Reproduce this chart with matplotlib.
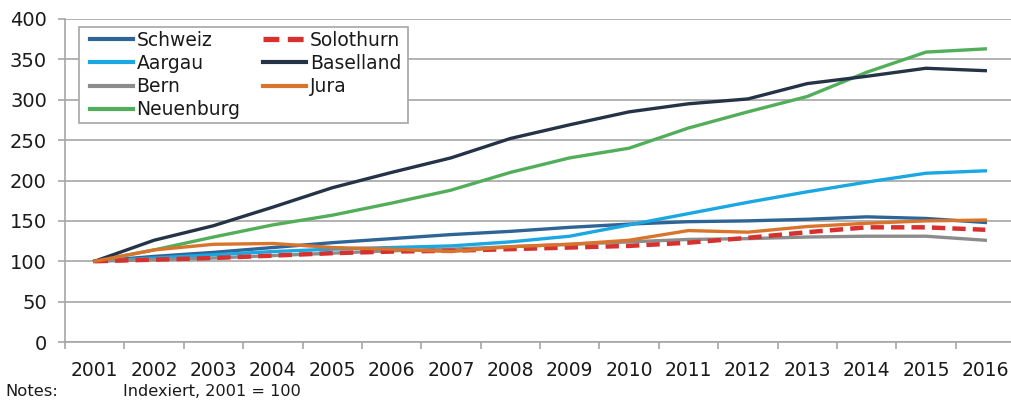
import matplotlib
matplotlib.use("Agg")
import matplotlib.pyplot as plt
from matplotlib.patches import Rectangle
import numpy as np

years = [str(y) for y in range(2001, 2017)]

schweiz   = [100, 106, 111, 117, 123, 128, 133, 137, 142, 146, 149, 150, 152, 155, 153, 148]
solothurn = [100, 102, 104, 107, 110, 112, 113, 115, 117, 119, 123, 129, 136, 142, 142, 139]
aargau    = [100, 104, 108, 112, 115, 117, 119, 124, 131, 145, 159, 173, 186, 198, 209, 212]
baselland = [100, 126, 144, 167, 191, 210, 228, 252, 269, 285, 295, 301, 320, 329, 339, 336]
bern      = [100, 102, 104, 107, 110, 113, 115, 118, 121, 124, 127, 128, 130, 131, 131, 126]
jura      = [100, 114, 121, 122, 117, 115, 112, 118, 121, 126, 138, 136, 143, 147, 150, 151]
neuenburg = [100, 114, 130, 145, 157, 172, 188, 210, 228, 240, 265, 285, 304, 334, 359, 363]

yticks = [0, 50, 100, 150, 200, 250, 300, 350, 400]

fig = plt.figure(figsize=(10.11, 4.05), dpi=100)
ax = fig.add_axes([65/1011, 1-342/405, 950/1011, 323/405])

x = np.arange(len(years))
grey = "#A6A6A6"
ax.plot(x, schweiz, color="#2F6596", lw=2.4, label="Schweiz", zorder=3)
ax.plot(x, aargau, color="#1AA7E2", lw=2.4, label="Aargau", zorder=3)
ax.plot(x, bern, color="#8C8C8C", lw=2.4, label="Bern", zorder=3)
ax.plot(x, neuenburg, color="#52AE5A", lw=2.4, label="Neuenburg", zorder=3)
ax.plot(x, solothurn, color="#D6312F", lw=3.2, ls=(0, (3, 1.6)), label="Solothurn", zorder=4)
ax.plot(x, baselland, color="#243446", lw=2.4, label="Baselland", zorder=3)
ax.plot(x, jura, color="#D9742C", lw=2.4, label="Jura", zorder=4)

ax.set_xlim(-0.5, len(years) - 0.5)
ax.set_ylim(0, 400)
ax.set_yticks(yticks)
ax.set_yticklabels([str(v) for v in yticks])
ax.set_xticks(x)
ax.set_xticklabels(years)
ax.set_xticks(np.arange(-0.5, len(years), 1.0), minor=True)

ax.grid(axis="y", color=grey, lw=1.2, zorder=0)
for s in ["top", "right"]:
    ax.spines[s].set_visible(False)
for s in ["left", "bottom"]:
    ax.spines[s].set_color(grey)
    ax.spines[s].set_linewidth(1.2)

ax.tick_params(axis="x", which="major", length=0, pad=14, labelsize=13.5, labelcolor="#1a1a1a")
ax.tick_params(axis="x", which="minor", length=5, width=1.2, color=grey)
ax.tick_params(axis="y", length=5, width=1.2, color=grey, pad=8, labelsize=14, labelcolor="#1a1a1a")

# legend frame drawn separately (reference frame is wider than its content)
frame = Rectangle((79/1011, 1-123/405), 329/1011, 96/405, transform=fig.transFigure,
                  facecolor="white", edgecolor=grey, lw=1.2, zorder=4.5)
ax.add_patch(frame)

handles, labels = ax.get_legend_handles_labels()
order = ["Schweiz", "Aargau", "Bern", "Neuenburg", "Solothurn", "Baselland", "Jura"]
hd = dict(zip(labels, handles))
leg = ax.legend([hd[k] for k in order], order, ncol=2, loc="upper left",
                bbox_to_anchor=(21/950, 0.975), borderaxespad=0, frameon=False,
                fontsize=13.5, handlelength=2.3, handletextpad=0.2,
                columnspacing=1.2, labelspacing=0.22, borderpad=0.2)
leg.set_zorder(5)
for t in leg.get_texts():
    t.set_color("#1a1a1a")
for h in leg.legend_handles:
    h.set_linewidth(h.get_linewidth() + 0.6)

fig.text(5/1011, 1-396/405, "Notes:", fontsize=11.8, color="#1a1a1a", va="baseline")
fig.text(123/1011, 1-396/405, "Indexiert, 2001 = 100", fontsize=11.6, color="#1a1a1a", va="baseline")

fig.savefig("out.png", dpi=100)
